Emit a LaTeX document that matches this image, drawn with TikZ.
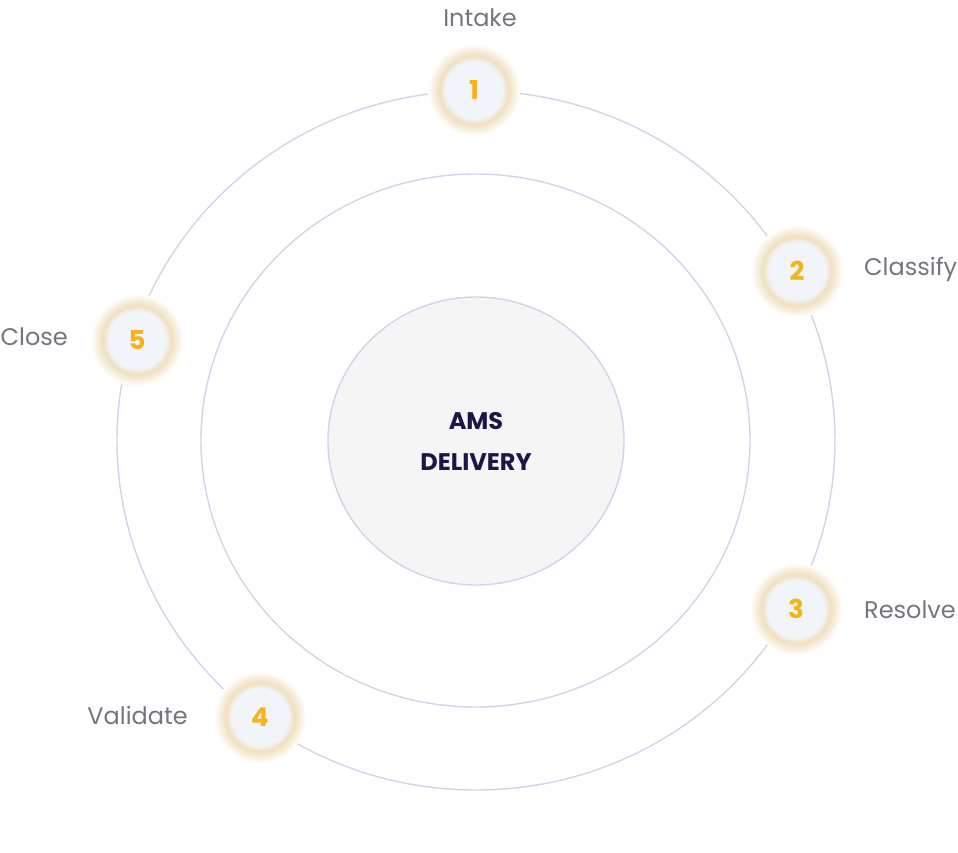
\documentclass[tikz,border=0pt]{standalone}
\usepackage{fontspec}
\setmainfont{Poppins}
\usetikzlibrary{shapes.geometric}

\definecolor{ringline}{HTML}{D5D2E8}
\definecolor{hubfill}{HTML}{F5F5F6}
\definecolor{hubtext}{HTML}{1B1646}
\definecolor{stepfill}{HTML}{F1F4F9}
\definecolor{stepglow}{HTML}{EEDBB6}
\definecolor{stepnum}{HTML}{F7B217}
\definecolor{labeltext}{HTML}{76747F}

\pgfdeclareradialshading{glowshade}{\pgfpoint{0bp}{0bp}}{color(0bp)=(stepfill); color(15.5bp)=(stepfill); color(18.5bp)=(stepglow!85!white); color(20.5bp)=(stepglow!65!white); color(25bp)=(white); color(50bp)=(white)}

\tikzset{
  ring/.style={draw=ringline, line width=1.4pt},
  hub/.style={ellipse, draw=ringline, line width=1.4pt, fill=hubfill, minimum width=296pt, minimum height=288pt, inner sep=0pt, text=hubtext, font=\fontsize{24}{41}\selectfont\bfseries},
  stepnode/.style={circle, shade, shading=glowshade, minimum size=92pt, inner sep=0pt, text=stepnum, font=\fontsize{26}{30}\selectfont\bfseries},
  steplabel/.style={text=labeltext, inner sep=0pt, font=\fontsize{24}{28}\selectfont}
}

\begin{document}
\begin{tikzpicture}[x=1pt, y=-1pt, align=center]

\useasboundingbox (0,0) rectangle (958,853);

% Rings
\draw[ring] (476,440.5) ellipse [x radius=359pt, y radius=349.5pt];
\draw[ring] (475.5,440.5) ellipse [x radius=274.5pt, y radius=266.5pt];

% Hub
\node[hub] (hub) at (476,441) {AMS\\DELIVERY};

% Steps
\node[stepnode] (s1) at (474,90) {1};
\node[stepnode] (s2) at (797,271) {2};
\node[stepnode] (s3) at (796,609) {3};
\node[stepnode] (s4) at (260,717) {4};
\node[stepnode] (s5) at (137,340) {5};

% Labels
\node[steplabel, anchor=base] (l1) at (480,27) {Intake};
\node[steplabel, anchor=base west] (l2) at (864,275) {Classify};
\node[steplabel, anchor=base west] (l3) at (864,618) {Resolve};
\node[steplabel, anchor=base east] (l4) at (188,724) {Validate};
\node[steplabel, anchor=base east] (l5) at (68,345) {Close};

\end{tikzpicture}
\end{document}
